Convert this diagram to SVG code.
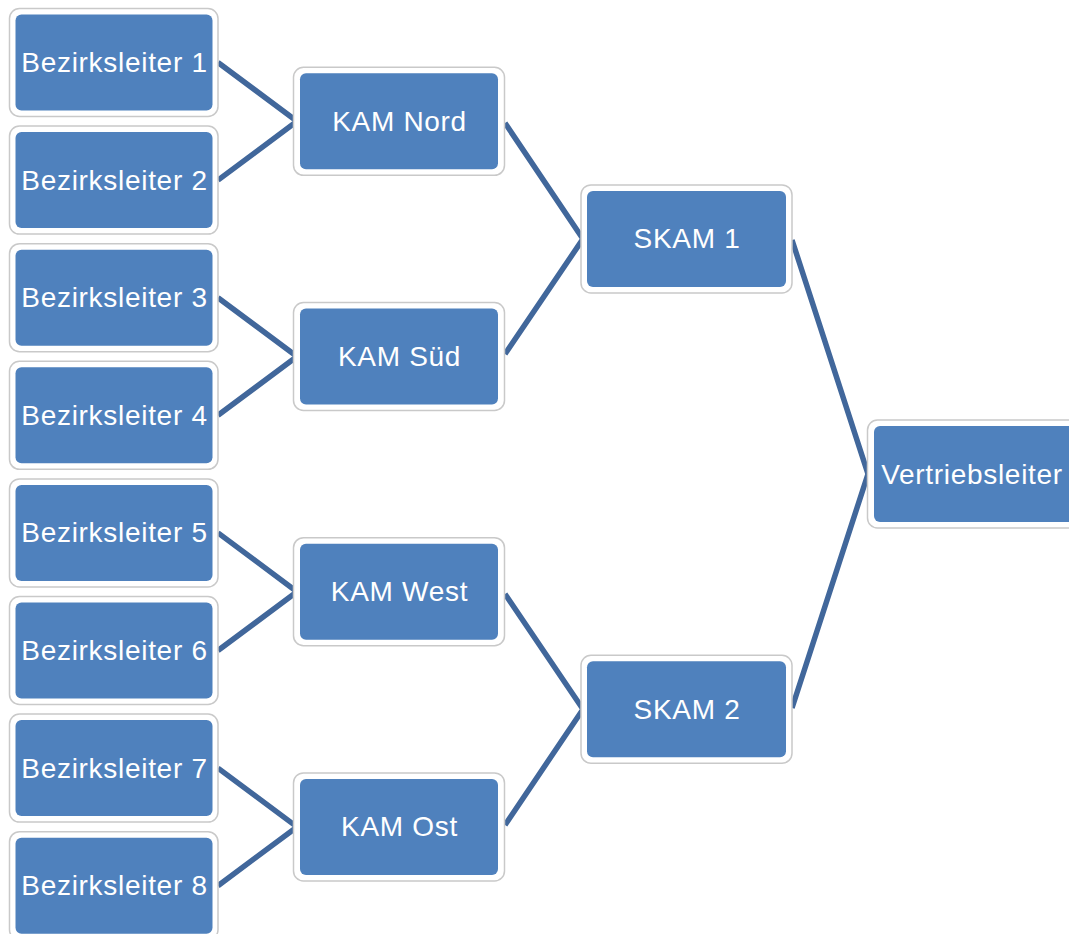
<svg xmlns="http://www.w3.org/2000/svg" width="1069" height="934" viewBox="0 0 1069 934">
<style>
.frame{fill:#ffffff;stroke:#c9c9c9;stroke-width:1.5}
.box{fill:#4f81bd}
.lbl{font-family:"Liberation Sans",Arial,sans-serif;font-size:28px;letter-spacing:0.7px;fill:#ffffff;text-anchor:middle}
.conn{fill:none;stroke:#41679b;stroke-width:5.5;stroke-linejoin:miter}
</style>
<rect width="1069" height="934" fill="#ffffff"/>
<g id="connectors">
<polyline class="conn" points="218,62.5 297,121.3 218,180.1"/>
<polyline class="conn" points="218,297.7 297,356.5 218,415.3"/>
<polyline class="conn" points="218,532.9 297,591.7 218,650.5"/>
<polyline class="conn" points="218,768.1 297,826.9 218,885.7"/>
<polyline class="conn" points="505,123 583,238.9 505,354"/>
<polyline class="conn" points="505,594 583,709.3 505,825"/>
<polyline class="conn" points="792,240 868,474 792,708"/>
</g>
<g id="bl1"><rect class="frame" x="9.5" y="8.5" width="208.5" height="108" rx="10"/><rect class="box" x="15.5" y="14.5" width="197" height="96" rx="6"/><text class="lbl" x="114.5" y="72">Bezirksleiter 1</text></g>
<g id="bl2"><rect class="frame" x="9.5" y="126.1" width="208.5" height="108" rx="10"/><rect class="box" x="15.5" y="132.1" width="197" height="96" rx="6"/><text class="lbl" x="114.5" y="189.6">Bezirksleiter 2</text></g>
<g id="bl3"><rect class="frame" x="9.5" y="243.7" width="208.5" height="108" rx="10"/><rect class="box" x="15.5" y="249.7" width="197" height="96" rx="6"/><text class="lbl" x="114.5" y="307.2">Bezirksleiter 3</text></g>
<g id="bl4"><rect class="frame" x="9.5" y="361.3" width="208.5" height="108" rx="10"/><rect class="box" x="15.5" y="367.3" width="197" height="96" rx="6"/><text class="lbl" x="114.5" y="424.8">Bezirksleiter 4</text></g>
<g id="bl5"><rect class="frame" x="9.5" y="478.9" width="208.5" height="108" rx="10"/><rect class="box" x="15.5" y="484.9" width="197" height="96" rx="6"/><text class="lbl" x="114.5" y="542.4">Bezirksleiter 5</text></g>
<g id="bl6"><rect class="frame" x="9.5" y="596.5" width="208.5" height="108" rx="10"/><rect class="box" x="15.5" y="602.5" width="197" height="96" rx="6"/><text class="lbl" x="114.5" y="660">Bezirksleiter 6</text></g>
<g id="bl7"><rect class="frame" x="9.5" y="714.1" width="208.5" height="108" rx="10"/><rect class="box" x="15.5" y="720.1" width="197" height="96" rx="6"/><text class="lbl" x="114.5" y="777.6">Bezirksleiter 7</text></g>
<g id="bl8"><rect class="frame" x="9.5" y="831.7" width="208.5" height="108" rx="10"/><rect class="box" x="15.5" y="837.7" width="197" height="96" rx="6"/><text class="lbl" x="114.5" y="895.2">Bezirksleiter 8</text></g>
<g id="kam-nord"><rect class="frame" x="293.5" y="67.3" width="211" height="108" rx="10"/><rect class="box" x="300" y="73.3" width="198" height="96" rx="6"/><text class="lbl" x="399.5" y="130.8">KAM Nord</text></g>
<g id="kam-sued"><rect class="frame" x="293.5" y="302.5" width="211" height="108" rx="10"/><rect class="box" x="300" y="308.5" width="198" height="96" rx="6"/><text class="lbl" x="399.5" y="366">KAM Süd</text></g>
<g id="kam-west"><rect class="frame" x="293.5" y="537.7" width="211" height="108" rx="10"/><rect class="box" x="300" y="543.7" width="198" height="96" rx="6"/><text class="lbl" x="399.5" y="601.2">KAM West</text></g>
<g id="kam-ost"><rect class="frame" x="293.5" y="772.9" width="211" height="108" rx="10"/><rect class="box" x="300" y="778.9" width="198" height="96" rx="6"/><text class="lbl" x="399.5" y="836.4">KAM Ost</text></g>
<g id="skam1"><rect class="frame" x="581" y="184.9" width="211" height="108" rx="10"/><rect class="box" x="587" y="190.9" width="199" height="96" rx="6"/><text class="lbl" x="687" y="248.4">SKAM 1</text></g>
<g id="skam2"><rect class="frame" x="581" y="655.3" width="211" height="108" rx="10"/><rect class="box" x="587" y="661.3" width="199" height="96" rx="6"/><text class="lbl" x="687" y="718.8">SKAM 2</text></g>
<g id="vertriebsleiter"><rect class="frame" x="867.5" y="420" width="212" height="108" rx="10"/><rect class="box" x="874" y="426" width="200" height="96" rx="6"/><text class="lbl" x="972" y="483.5">Vertriebsleiter</text></g>
</svg>
